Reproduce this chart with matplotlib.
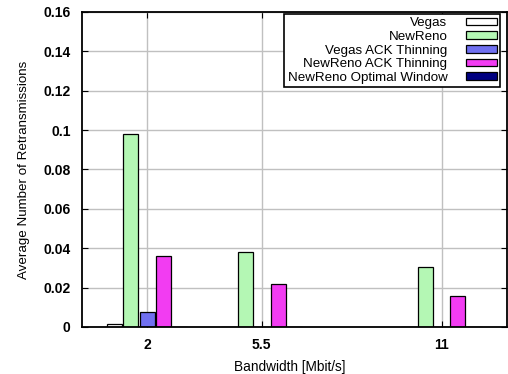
import numpy as np
import matplotlib
matplotlib.use('Agg')
import matplotlib.pyplot as plt

plt.rcParams['font.family'] = ['Liberation Sans', 'DejaVu Sans']

bandwidth = [2, 5.5, 11]
series = ['Vegas', 'NewReno', 'Vegas ACK Thinning', 'NewReno ACK Thinning', 'NewReno Optimal Window']
vegas = [0.0015, 0.0, 0.0]
newreno = [0.098, 0.038, 0.0306]
vegas_ack = [0.0078, 0.0, 0.0]
newreno_ack = [0.0362, 0.0217, 0.0157]
newreno_opt = [0.0, 0.0, 0.0]
yticks = [0, 0.02, 0.04, 0.06, 0.08, 0.1, 0.12, 0.14, 0.16]
yticklabels = ['0', '0.02', '0.04', '0.06', '0.08', '0.1', '0.12', '0.14', '0.16']

colors = ['white', '#b4f7b4', '#7070f0', '#f23cf2', '#000080']
values = [vegas, newreno, vegas_ack, newreno_ack, newreno_opt]

fig = plt.figure(figsize=(5.08, 3.74), dpi=100)
ax = fig.add_axes([0.161, 0.126, 0.837, 0.842])
ax.set_axisbelow(True)

X = np.array(bandwidth)
width = 0.46
for i, (name, vals, c) in enumerate(zip(series, values, colors)):
    ax.bar(X + (i - 2) * 0.5, vals, width=width, color=c, edgecolor='black',
           linewidth=0.9, label=name)

ax.set_xlim(0, 13)
ax.set_ylim(0, 0.16)
ax.set_xticks(bandwidth)
ax.set_xticklabels(['2', '5.5', '11'], fontweight='bold', fontsize=10)
ax.set_yticks(yticks)
ax.set_yticklabels(yticklabels, fontweight='bold', fontsize=10)
ax.tick_params(direction='in', length=4, pad=8, right=True, top=True)
ax.grid(True, color='#c0c0c0', linewidth=1)
for s in ax.spines.values():
    s.set_linewidth(1.3)

ax.set_xlabel('Bandwidth [Mbit/s]', fontsize=9.8)
ax.set_ylabel('Average Number of Retransmissions', fontsize=9.6, labelpad=10)
ax.xaxis.set_label_coords(0.49, -0.104)

leg = ax.legend(loc='upper right', bbox_to_anchor=(500 / 508, 1 - 14 / 374),
                bbox_transform=fig.transFigure, borderaxespad=0,
                markerfirst=False, fontsize=9.6, fancybox=False,
                framealpha=1, edgecolor='black',
                handlelength=2.3, handleheight=0.5, labelspacing=0.12,
                borderpad=0.25, handletextpad=1.4)
leg.get_frame().set_linewidth(1.2)
for t in leg.get_texts():
    t.set_ha('right')

fig.savefig('out.png', dpi=100)
